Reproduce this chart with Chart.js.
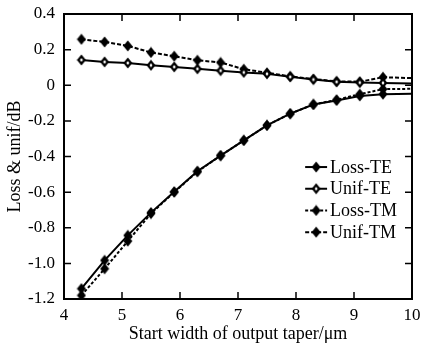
<!DOCTYPE html>
<html>
<head>
<meta charset="utf-8">
<script src="https://cdn.jsdelivr.net/npm/chart.js@4/dist/chart.umd.min.js"></script>
<style>
  html, body { margin: 0; padding: 0; background: #fff; }
  #wrap { width: 421px; height: 345px; position: relative; }
</style>
</head>
<body>
<div id="wrap"><canvas id="c" width="421" height="345"></canvas></div>
<script>
// ---- data ----
const widths   = [4.3, 4.7, 5.1, 5.5, 5.9, 6.3, 6.7, 7.1, 7.5, 7.9, 8.3, 8.7, 9.1, 9.5, 10];
const lossTE   = [-1.142, -0.983, -0.843, -0.715, -0.598, -0.483, -0.395, -0.309, -0.225, -0.159, -0.108, -0.085, -0.060, -0.050, -0.048];
const unifTE   = [0.142, 0.131, 0.125, 0.112, 0.103, 0.092, 0.082, 0.072, 0.064, 0.047, 0.032, 0.019, 0.015, 0.013, 0.010];
const lossTM   = [-1.180, -1.030, -0.875, -0.720, -0.600, -0.485, -0.395, -0.310, -0.225, -0.160, -0.108, -0.082, -0.050, -0.022, -0.020];
const unifTM   = [0.258, 0.243, 0.221, 0.184, 0.163, 0.140, 0.128, 0.090, 0.070, 0.050, 0.035, 0.022, 0.020, 0.045, 0.040];
const seriesNames = ['Loss-TE', 'Unif-TE', 'Loss-TM', 'Unif-TM'];
const xTicks = [4, 5, 6, 7, 8, 9, 10];
const yTicks = [0.4, 0.2, 0, -0.2, -0.4, -0.6, -0.8, -1.0, -1.2];
const xTitle = 'Start width of output taper/\u03bcm';
const yTitle = 'Loss & unif/dB';

// ---- styling helpers ----
function diamond(fill, hollow) {
  const cv = document.createElement('canvas');
  cv.width = 10; cv.height = 12;
  const g = cv.getContext('2d');
  g.beginPath();
  g.moveTo(5, 0.5); g.lineTo(9.5, 6); g.lineTo(5, 11.5); g.lineTo(0.5, 6); g.closePath();
  g.fillStyle = fill; g.fill();
  if (hollow) {
    g.beginPath();
    g.moveTo(5, 4); g.lineTo(6.5, 6); g.lineTo(5, 8); g.lineTo(3.5, 6); g.closePath();
    g.fillStyle = '#fff'; g.fill();
  }
  return cv;
}
const markers = [diamond('#000', false), diamond('#000', true), diamond('#000', false), diamond('#000', false)];
const dashes = [[], [], [3, 2], [4, 2]];
const values = [lossTE, unifTE, lossTM, unifTM];

const datasets = seriesNames.map((name, i) => ({
  label: name,
  data: widths.map((w, k) => ({ x: w, y: values[i][k] })),
  borderColor: '#000',
  backgroundColor: '#000',
  borderWidth: 2,
  borderDash: dashes[i],
  pointStyle: markers[i],
  pointRadius: widths.map(w => (w >= 10 ? 0 : 5)),
  pointHoverRadius: 5,
  tension: 0,
  fill: false,
  clip: 0
}));

// inward tick marks + frame
const framePlugin = {
  id: 'frame',
  afterDraw(chart) {
    const { ctx, chartArea: a, scales } = chart;
    ctx.save();
    ctx.strokeStyle = '#000';
    ctx.lineWidth = 2;
    ctx.strokeRect(a.left, a.top, a.right - a.left, a.bottom - a.top);
    ctx.lineWidth = 1.5;
    const L = 7;
    ctx.beginPath();
    scales.x.ticks.forEach(t => {
      const px = scales.x.getPixelForValue(t.value);
      ctx.moveTo(px, a.bottom); ctx.lineTo(px, a.bottom - L);
      ctx.moveTo(px, a.top); ctx.lineTo(px, a.top + L);
    });
    scales.y.ticks.forEach(t => {
      const py = scales.y.getPixelForValue(t.value);
      ctx.moveTo(a.left, py); ctx.lineTo(a.left + L, py);
      ctx.moveTo(a.right, py); ctx.lineTo(a.right - L, py);
    });
    ctx.stroke();
    ctx.restore();
  }
};

// legend drawn inside the plot area
const legendPlugin = {
  id: 'insideLegend',
  afterDraw(chart) {
    const { ctx, chartArea: a } = chart;
    const w = a.right - a.left, h = a.bottom - a.top;
    const x0 = a.left + w * 0.693, x1 = a.left + w * 0.756;
    const y0 = a.top + h * 0.537, dy = 21.7;
    ctx.save();
    ctx.font = '18px "Liberation Serif", "Times New Roman", serif';
    ctx.textBaseline = 'middle';
    ctx.fillStyle = '#000';
    chart.data.datasets.forEach((ds, i) => {
      const y = y0 + i * dy;
      ctx.beginPath();
      ctx.setLineDash(ds.borderDash);
      ctx.lineWidth = 2;
      ctx.strokeStyle = '#000';
      ctx.moveTo(x0, y); ctx.lineTo(x1, y);
      ctx.stroke();
      ctx.setLineDash([]);
      const m = ds.pointStyle;
      ctx.drawImage(m, (x0 + x1) / 2 - m.width / 2, y - m.height / 2);
      ctx.fillText(ds.label, x1 + 3, y + 1);
    });
    ctx.restore();
  }
};

const serif = '"Liberation Serif", "Times New Roman", serif';

new Chart(document.getElementById('c'), {
  type: 'line',
  data: { datasets },
  plugins: [framePlugin, legendPlugin],
  options: {
    responsive: false,
    animation: false,
    layout: { padding: { top: 14, right: 9, left: 0, bottom: 0 } },
    plugins: { legend: { display: false }, tooltip: { enabled: false } },
    scales: {
      x: {
        type: 'linear', min: 4, max: 10,
        afterBuildTicks: s => { s.ticks = xTicks.map(v => ({ value: v })); },
        afterFit: s => { s.height = 46; s.paddingLeft = 0; s.paddingRight = 0; },
        grid: { display: false, drawTicks: false },
        border: { display: false },
        ticks: { color: '#000', font: { family: serif, size: 17 }, padding: 6, maxRotation: 0, autoSkip: false, callback: v => String(v) },
        title: { display: true, text: xTitle, color: '#000', font: { family: serif, size: 18 }, padding: { top: 0, bottom: 0 } }
      },
      y: {
        type: 'linear', min: -1.2, max: 0.4,
        afterBuildTicks: s => { s.ticks = yTicks.map(v => ({ value: v })); },
        afterFit: s => { s.width = 64; s.paddingTop = 0; s.paddingBottom = 0; },
        grid: { display: false, drawTicks: false },
        border: { display: false },
        ticks: { color: '#000', font: { family: serif, size: 17 }, padding: 9, autoSkip: false, callback: v => (Math.abs(v) < 1e-9 ? '0' : Number(v).toFixed(1)) },
        title: { display: true, text: yTitle, color: '#000', font: { family: serif, size: 18 }, padding: { top: 4, bottom: 0 } }
      }
    }
  }
});
</script>
</body>
</html>
